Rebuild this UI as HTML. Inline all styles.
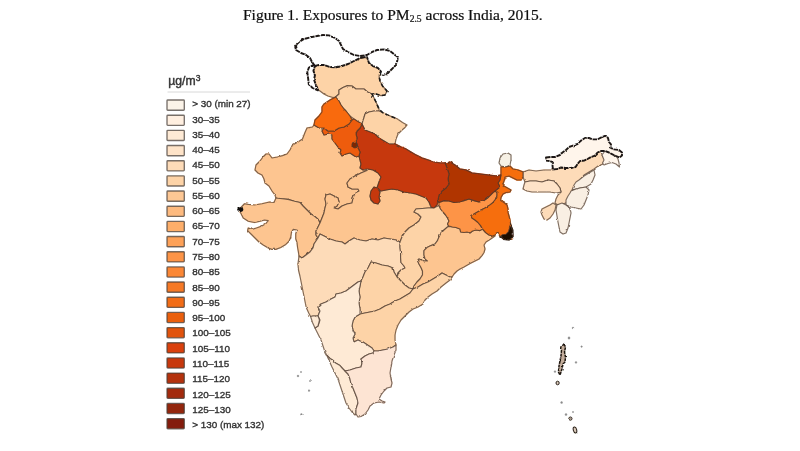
<!DOCTYPE html>
<html><head><meta charset="utf-8"><title>Figure 1</title>
<style>
html,body{margin:0;padding:0;background:#fff;}
body{width:800px;height:451px;overflow:hidden;position:relative;}
svg{position:absolute;left:0;top:0;}
.title{font-family:"Liberation Serif",serif;font-size:15.5px;fill:#111;stroke:#111;stroke-width:0.22px;}
.lg{font-family:"Liberation Sans",sans-serif;font-size:9.9px;fill:#333;stroke:#333;stroke-width:0.36px;}
.unit{font-family:"Liberation Sans",sans-serif;font-size:12.2px;fill:#333;stroke:#333;stroke-width:0.4px;}
</style></head><body>
<svg width="800" height="451" viewBox="0 0 800 451">
<defs><filter id="b" x="-5%" y="-5%" width="110%" height="110%"><feGaussianBlur stdDeviation="0.7"/></filter>
<filter id="w" x="0" y="0" width="100%" height="100%" filterUnits="userSpaceOnUse"><feTurbulence type="fractalNoise" baseFrequency="0.22" numOctaves="2" seed="7" result="n"/><feDisplacementMap in="SourceGraphic" in2="n" scale="2.2" xChannelSelector="R" yChannelSelector="G"/></filter></defs>
<rect width="800" height="451" fill="#fff"/>
<g filter="url(#b)">
<text x="243" y="20.4" class="title">Figure 1. Exposures to PM<tspan font-size="9.6" dy="2">2.5</tspan><tspan dy="-2"> across India, 2015.</tspan></text>
<text x="168.3" y="85.3" class="unit">µg/m<tspan font-size="8.5" dy="-4.5">3</tspan></text>
<line x1="167.5" y1="92" x2="250" y2="92" stroke="#d8d8d8" stroke-width="1"/>
<rect x="167" y="100.0" width="17.3" height="10.2" rx="0.8" fill="#fbf3e8" stroke="#4a423c" stroke-opacity="0.75" stroke-width="1.35"/>
<text x="192.2" y="107.2" class="lg">&gt; 30 (min 27)</text>
<rect x="167" y="115.2" width="17.3" height="10.2" rx="0.8" fill="#ffefe0" stroke="#4a423c" stroke-opacity="0.75" stroke-width="1.35"/>
<text x="192.2" y="122.5" class="lg">30–35</text>
<rect x="167" y="130.3" width="17.3" height="10.2" rx="0.8" fill="#feead5" stroke="#4a423c" stroke-opacity="0.75" stroke-width="1.35"/>
<text x="192.2" y="137.8" class="lg">35–40</text>
<rect x="167" y="145.5" width="17.3" height="10.2" rx="0.8" fill="#fee3c8" stroke="#4a423c" stroke-opacity="0.75" stroke-width="1.35"/>
<text x="192.2" y="153.0" class="lg">40–45</text>
<rect x="167" y="160.7" width="17.3" height="10.2" rx="0.8" fill="#fddbb8" stroke="#4a423c" stroke-opacity="0.75" stroke-width="1.35"/>
<text x="192.2" y="168.3" class="lg">45–50</text>
<rect x="167" y="175.8" width="17.3" height="10.2" rx="0.8" fill="#fdd3a7" stroke="#4a423c" stroke-opacity="0.75" stroke-width="1.35"/>
<text x="192.2" y="183.6" class="lg">50–55</text>
<rect x="167" y="191.0" width="17.3" height="10.2" rx="0.8" fill="#fdc794" stroke="#4a423c" stroke-opacity="0.75" stroke-width="1.35"/>
<text x="192.2" y="198.9" class="lg">55–60</text>
<rect x="167" y="206.2" width="17.3" height="10.2" rx="0.8" fill="#fdba7f" stroke="#4a423c" stroke-opacity="0.75" stroke-width="1.35"/>
<text x="192.2" y="214.2" class="lg">60–65</text>
<rect x="167" y="221.4" width="17.3" height="10.2" rx="0.8" fill="#fdae6a" stroke="#4a423c" stroke-opacity="0.75" stroke-width="1.35"/>
<text x="192.2" y="229.4" class="lg">65–70</text>
<rect x="167" y="236.5" width="17.3" height="10.2" rx="0.8" fill="#fda159" stroke="#4a423c" stroke-opacity="0.75" stroke-width="1.35"/>
<text x="192.2" y="244.7" class="lg">70–75</text>
<rect x="167" y="251.7" width="17.3" height="10.2" rx="0.8" fill="#fd9446" stroke="#4a423c" stroke-opacity="0.75" stroke-width="1.35"/>
<text x="192.2" y="260.0" class="lg">75–80</text>
<rect x="167" y="266.9" width="17.3" height="10.2" rx="0.8" fill="#fb8735" stroke="#4a423c" stroke-opacity="0.75" stroke-width="1.35"/>
<text x="192.2" y="275.3" class="lg">80–85</text>
<rect x="167" y="282.0" width="17.3" height="10.2" rx="0.8" fill="#f67925" stroke="#4a423c" stroke-opacity="0.75" stroke-width="1.35"/>
<text x="192.2" y="290.6" class="lg">85–90</text>
<rect x="167" y="297.2" width="17.3" height="10.2" rx="0.8" fill="#f26c16" stroke="#4a423c" stroke-opacity="0.75" stroke-width="1.35"/>
<text x="192.2" y="305.8" class="lg">90–95</text>
<rect x="167" y="312.4" width="17.3" height="10.2" rx="0.8" fill="#ea5f0e" stroke="#4a423c" stroke-opacity="0.75" stroke-width="1.35"/>
<text x="192.2" y="321.1" class="lg">95–100</text>
<rect x="167" y="327.6" width="17.3" height="10.2" rx="0.8" fill="#e15307" stroke="#4a423c" stroke-opacity="0.75" stroke-width="1.35"/>
<text x="192.2" y="336.4" class="lg">100–105</text>
<rect x="167" y="342.7" width="17.3" height="10.2" rx="0.8" fill="#da3f07" stroke="#4a423c" stroke-opacity="0.75" stroke-width="1.35"/>
<text x="192.2" y="351.7" class="lg">105–110</text>
<rect x="167" y="357.9" width="17.3" height="10.2" rx="0.8" fill="#c73808" stroke="#4a423c" stroke-opacity="0.75" stroke-width="1.35"/>
<text x="192.2" y="367.0" class="lg">110–115</text>
<rect x="167" y="373.1" width="17.3" height="10.2" rx="0.8" fill="#b43109" stroke="#4a423c" stroke-opacity="0.75" stroke-width="1.35"/>
<text x="192.2" y="382.2" class="lg">115–120</text>
<rect x="167" y="388.2" width="17.3" height="10.2" rx="0.8" fill="#a32b09" stroke="#4a423c" stroke-opacity="0.75" stroke-width="1.35"/>
<text x="192.2" y="397.5" class="lg">120–125</text>
<rect x="167" y="403.4" width="17.3" height="10.2" rx="0.8" fill="#93250a" stroke="#4a423c" stroke-opacity="0.75" stroke-width="1.35"/>
<text x="192.2" y="412.8" class="lg">125–130</text>
<rect x="167" y="418.6" width="17.3" height="10.2" rx="0.8" fill="#841f0a" stroke="#4a423c" stroke-opacity="0.75" stroke-width="1.35"/>
<text x="192.2" y="428.1" class="lg">&gt; 130 (max 132)</text>
<g filter="url(#w)">
<polygon points="320,91 318,89.6 315.6,84.3 314.1,79.8 314.9,75.2 313.4,70.7 314.9,66.2 319,65 324,65 330,67 336,67.4 342,66 348,64 354,61 360,58 367,57 369,63 373,66 378,68 381,71.5 379,76 380,81 382.5,86 387,91 385,95 381,95.6 376,94 372,94 367.5,92 364,89 360,89 356,89 352,86 347.5,85.6 343,87.5 339,90 339,94 335.6,97 333,97.5 328,96 324,94" fill="#fdd3a7" stroke="#fdd3a7" stroke-width="1.4" stroke-linejoin="round"/>
<polygon points="335.6,97 339,94 339,90 343,87.5 347.5,85.6 352,86 356,89 360,89 364,89 367.5,92 372,94 374,98 376,102 377.5,105.6 379,109 379,111 374,111 369,112 365,114 364,117.5 363,120.6 362,124 357,121 354,119 350,116 346,111 344,109 341,105 339,101" fill="#fdd3a7" stroke="#fdd3a7" stroke-width="1.4" stroke-linejoin="round"/>
<polygon points="379,111 382.5,112.5 387.5,115 392.5,117 397.5,119 402.5,122.5 407,125 405,127.5 402,130 398,134 396,139 395,144 389,144 384,141 379,138 375,134 370,132 365,130 362,124 363,120.6 364,117.5 365,114 369,112 374,111" fill="#fdd3a7" stroke="#fdd3a7" stroke-width="1.4" stroke-linejoin="round"/>
<polygon points="276,198 282,198.75 288,199.4 294.5,201.25 300,202.5 303.25,206.25 307,210 310.75,213.75 314.5,216.25 318.25,219.4 320,223 322,218 324,213 325,208 326,204 325,199 326,195 330,194 334,196 338,198 339,202 337,206 334,208 338,209 342,206 347,204 352,203 353,198 355,193 359,191 358,189 352,189 348,187 347,183 350,179 355,176 361,173 367,170.5 363,170 360,168 361,164 360,160 359,156 356,157 353,155 350,153 346,154 342,156 340,153 341,150 338,147 335,143 332,139 332,135 329,134 324,135 322,131 324,128 319,128 314,125 312.5,127 307,128 305,132.5 302.5,139 298,142 292.5,145 290,150 287,154 282.5,155.6 277.5,157 272,158 269,154 266,154 263,157 260,161 256,165 255,170 258,173 262,175 264,179 265,183 269,186 272,191 275,195" fill="#fdc590" stroke="#fdc590" stroke-width="1.4" stroke-linejoin="round"/>
<polygon points="299,256 298.25,251 297.6,247.5 297,242.5 295.75,238.75 295.75,233.75 297,230 293.25,229.4 291.4,232.5 290.75,237 289,241.25 285.75,244.4 280.75,247.5 275.75,249.4 272,249.4 268.25,248 263.25,245 259,242 255,238 250.75,233.75 247.6,230.6 248.25,228 252,229.4 256.4,228 261.4,226.25 265.75,223.75 268.25,220.6 264.5,220 260,221.25 254.5,222.5 248.25,221.25 243.25,218 240.75,213 238.25,209.4 241.4,207 244.5,203.75 248.25,204.4 254.5,205 262,203.75 269.5,202 274,202.5 276,198 282,198.75 288,199.4 294.5,201.25 300,202.5 303.25,206.25 307,210 310.75,213.75 314.5,216.25 318.25,219.4 320,223 318,227 316,231 316,235 318,238 316,241 314,244 313,248 310,252 306,255 302,258" fill="#fdc590" stroke="#fdc590" stroke-width="1.4" stroke-linejoin="round"/>
<polygon points="320,223 322,218 324,213 325,208 326,204 325,199 326,195 330,194 334,196 338,198 339,202 337,206 334,208 338,209 342,206 347,204 352,203 353,198 355,193 359,191 358,189 352,189 348,187 347,183 350,179 355,176 361,173 367,170.5 368,169 373,170 378,173 381,177 379,182 377,188 374,187 371,191 370,196 371,200 374,203 378,204 380,201 379,197 380,192 378,189 381,191 386,190 392,189 398,190 404,192 410,193 416,194 421,196 426,198 429,202 431,207 433,208 428,208 422,208.5 416,209 414,212 418,214 421,217 419,221 414,225 409,228 405,232 402,237 400,242 396,240 390,239 384,238 378,240 372,239 366,241 360,240 354,238 349,241 345,244 342,242 336,241 330,239 324,236 320,234 318,238 316,235 316,231 318,227" fill="#fdc590" stroke="#fdc590" stroke-width="1.4" stroke-linejoin="round"/>
<polygon points="313,316 310.6,316.5 308.75,313 306.25,307.5 305,301.25 303.75,295 302.5,288.75 301.25,282.5 300,276.25 298.5,270 298,264 299,256 302,258 306,255 310,252 313,248 314,244 316,241 318,238 320,234 324,236 330,239 336,241 342,242 345,244 349,241 354,238 360,240 366,241 372,239 378,240 384,238 390,239 396,240 400,242 400,247.5 400.6,252.5 400.6,257.5 401,262.5 404,266 405,268 401,270 398,273 397,277 394,272 393,268 388,266 382,265 376,263 371,262 368,268 365,272 363,277 361,281 358,282 354,285 350,288 346,291 341,293 336,294 335,297 331,299 326,302 321,304 318,307 320,311 318,316" fill="#fddbb8" stroke="#fddbb8" stroke-width="1.4" stroke-linejoin="round"/>
<polygon points="400,242 402,237 405,232 409,228 414,225 419,221 421,217 418,214 414,212 416,209 422,208.5 428,208 433,208 437,206.5 439,205.6 440.6,209 443,212 445.6,215 447.5,218 449,221 447.5,224 448.5,226.5 447.5,227 444,230 441,233 439,237 437.5,240.6 435,244 431,245.6 427,247.5 424,250.6 424,255 425,259 427.5,261 424,261 419,259 417.5,260.6 419,264 421,267.5 422.5,271 422.5,275 420,279 417,282 414,286 413,289 409,288 405,285 402,282 399,279 397,277 398,273 401,270 405,268 404,266 401,262.5 400.6,257.5 400.6,252.5 400,247.5" fill="#fdd3a7" stroke="#fdd3a7" stroke-width="1.4" stroke-linejoin="round"/>
<polygon points="448.5,226.5 452.5,227 456,227.5 460,229 460.6,232 464,232.5 467,232 470,233 472.5,231 476,230 480,230.6 482.5,229 485.6,232.5 489,235 492.5,236 495,236 490,239.5 486,242 484,245 485,249 484,252.5 482,255.6 479,259 475,261 471,263 467.5,265 464,267 460,269 457,271 454,274 452,277 450,277 446,275 442,273 438,276 433,279 428,282 423,284 418,287 413,289 414,286 417,282 420,279 422.5,275 422.5,271 421,267.5 419,264 417.5,260.6 419,259 424,261 427.5,261 425,259 424,255 424,250.6 427,247.5 431,245.6 435,244 437.5,240.6 439,237 441,233 444,230 447.5,227" fill="#fdc590" stroke="#fdc590" stroke-width="1.4" stroke-linejoin="round"/>
<polygon points="361,281 363,277 365,272 368,268 371,262 376,263 382,265 388,266 393,268 394,272 397,277 399,279 402,282 405,285 409,288 413,289 410,293 405,296 400,299 395,301 390,304 385,306 380,309 375,311 370,312 365,313 360,314 360,309 359,303 360,297 359,291 360,286" fill="#fdd3a7" stroke="#fdd3a7" stroke-width="1.4" stroke-linejoin="round"/>
<polygon points="360,314 365,313 370,312 375,311 380,309 385,306 390,304 395,301 400,299 405,296 410,293 413,289 418,287 423,284 428,282 433,279 438,276 442,273 446,275 450,277 452,277 450,280 446,283 441,287 437,291 432,294 428,297 425,300 423,304 418,307 413,309 409,312 405,316 401,320 398,325 396,330 395,335 395,340 396,345 393,347 388,349 383,350 378,351 374,351 372,348 369,346 366,344 363,342 360,341 358,340 354,342 353,338 355,334 353,330 352,326 353,321 355,317" fill="#fdd3a7" stroke="#fdd3a7" stroke-width="1.4" stroke-linejoin="round"/>
<polygon points="345,371 342.5,368.5 340,365.6 335.6,363 332.5,360 330,358.5 327,355.5 325,352 323,346 321,340 318,334 315,328 318,326 320,320 318,316 320,311 318,307 321,304 326,302 331,299 335,297 336,294 341,293 346,291 350,288 354,285 358,282 361,281 360,286 359,291 360,297 359,303 360,309 360,314 355,317 353,321 352,326 353,330 355,334 353,338 354,342 358,340 360,341 363,342 366,344 369,346 372,348 374,351 373,353 369,354 365,356 361,359 362,363 361,367 356,368 350,370" fill="#feead5" stroke="#feead5" stroke-width="1.4" stroke-linejoin="round"/>
<polygon points="310.6,316.5 313,316 318,316 319.5,320 318,326 315,328 312.5,322.5" fill="#feead5" stroke="#feead5" stroke-width="1.4" stroke-linejoin="round"/>
<polygon points="327,355.5 330,358.5 332.5,360 335.6,363 340,365.6 342.5,368.5 345,371 348,374 350,379 351,384 353,388 355,393 357,398 358,403 356,409 356,414 355,415 352,412 349,408 346,403 344,397 342,391 340,385 338,379 335,373 332,367 329.5,361.5" fill="#feead5" stroke="#feead5" stroke-width="1.4" stroke-linejoin="round"/>
<polygon points="345,371 350,370 356,368 361,367 362,363 361,359 365,356 369,354 373,353 374,351 378,351 383,350 388,349 393,347 396,345 396,350 394,355 392,361 391,367 390,373 391,379 392,383 391,387 387,388 384,391 381,395 379,399 382,401 385,402 384,403 379,402 374,403 370,406 368,410 365,414 361,416.5 358,417 356,414 356,409 358,403 357,398 355,393 353,388 351,384 350,379 348,374" fill="#fde4d3" stroke="#fde4d3" stroke-width="1.4" stroke-linejoin="round"/>
<polygon points="553,170 557,169 561,167.5 566,168 571,168 575.6,167 577.5,164 580,161 584,160.6 587.5,159 591,157 595,155.6 597.5,152.5 601,151 602,155 605,160 603,164 598,166 594,169 589,172 584,175 581,179 579,184 575,187 572,191 570,195 568,199 566,203 562,204 557,204.5 555,203 556,199 558,195 561,192 560,188 557,184 554,181 548,180 542,182 536,181 530,181 525,182 523,177 523,172 529,170 536,171 544,170" fill="#fddbb8" stroke="#fddbb8" stroke-width="1.4" stroke-linejoin="round"/>
<polygon points="525,182 530,181 536,181 542,182 548,180 554,181 557,184 560,188 561,192 556,193 550,192 544,192 538,192 532,192 527,191 523,189 524,185" fill="#fee3c8" stroke="#fee3c8" stroke-width="1.4" stroke-linejoin="round"/>
<polygon points="579,180 584,176 589,173 594,170 595,175 593,180 591,184 586,187 580,188 576,189 572,190 574,185 576,182" fill="#f9efe3" stroke="#f9efe3" stroke-width="1.4" stroke-linejoin="round"/>
<polygon points="571,191 576,189 580,188 586,187 589,190 588,195 586,200 584,205 581,209 576,208 571,207 566,205 566,200 568,196 570,193" fill="#f9efe3" stroke="#f9efe3" stroke-width="1.4" stroke-linejoin="round"/>
<polygon points="557,205 562,203 566,205 570,208 571,213 570,218 569,223 568,228 566,233 563,234 560,232 559,227 558,222 557,216 556,210" fill="#f9efe3" stroke="#f9efe3" stroke-width="1.4" stroke-linejoin="round"/>
<polygon points="542,209 546,207 550,205 553,203 556,205 555,210 553,214 550,218 547,220 544,219 542,215 541,212" fill="#fddbb8" stroke="#fddbb8" stroke-width="1.4" stroke-linejoin="round"/>
<polygon points="602,155 605,151 609,152.5 612.5,154.4 616,156 618,159 619,163 619.5,167 616,164 612,162.5 608,163.5 604,165 602.5,163 604,160" fill="#fff5eb" stroke="#fff5eb" stroke-width="1.4" stroke-linejoin="round"/>
<polygon points="500,158 503,154 508,153 511,155 511,160 510,165 506,167 501,166 499,163" fill="#f6f0e4" stroke="#f6f0e4" stroke-width="1.4" stroke-linejoin="round"/>
<polygon points="439,202.5 444,200.6 449,201 454,202.5 459,202 464,200.6 469,199 474,200.6 479,202 484,200.6 487.5,198 490,195.6 492.5,193 495,191 497,192.5 497,196 495,200 492.5,203 489,205.6 485,208 481,210 477.5,212 474,214 471,215.6 472,218 475,220 478,222.5 480.6,225.6 482.5,229 480,230.6 476,230 472.5,231 470,233 467,232 464,232.5 460.6,232 460,229 456,227.5 452.5,227 449,226 447.5,224 449,221 447.5,218 445.6,215 443,212 440.6,209 439,205.6" fill="#fd9446" stroke="#fd9446" stroke-width="1.4" stroke-linejoin="round"/>
<polygon points="501,167 506,167 510,166 513,169 518,170 523,172 523,177 521,180 517,180 513,178 509,176 505,177 504,181 503,184 504,186 507.5,188 511,190 510,192 506,192.5 503,194 501,197.5 500.6,200.6 504,202.5 507,205 508,209 508,212.5 509,216 510,220 510.6,224 511,227.5 512,231 512.5,235 512,239 507.5,239 502.5,239 500,236 498,233 495,235 492.5,236 489,235 485.6,232.5 482.5,229 480.6,225.6 478,222.5 475,220 472,218 471,215.6 474,214 477.5,212 481,210 485,208 489,205.6 492.5,203 495,200 497,196 497,192.5 495,191 497.5,189 500,187 498,183 500,180 501,175 501,170" fill="#f66e10" stroke="#f66e10" stroke-width="1.4" stroke-linejoin="round"/>
<polygon points="445,163 450,162 455,165 460,169 466,170 472,173 480,174 488,175 496,176 501,175 500,180 498,183 500,187 497.5,189 495,191 492.5,193 490,195.6 487.5,198 484,200.6 479,202 474,200.6 469,199 464,200.6 459,202 454,202.5 449,201 444,200.6 439,202.5 438,200 439,195 442,191 446,188 449,184 448,179 449,174 447,168" fill="#b03606" stroke="#b03606" stroke-width="1.4" stroke-linejoin="round"/>
<polygon points="362,124 365,130 370,132 375,134 379,138 384,141 389,144 395,144 401,147 406,149 411,152 416,155 422,158 428,160 434,162 440,163 445,163 447,168 449,174 448,179 449,184 446,188 442,191 439,195 438,200 437,205 434,208 431,207 429,202 426,198 421,196 416,194 410,193 404,192 398,190 392,189 386,190 381,191 378,189 380,192 379,197 380,201 378,204 374,203 371,200 370,196 371,191 374,187 377,188 379,182 381,177 378,173 373,170 368,169 363,170 360,168 361,164 360,160 359,156 360,152 358,148 357,144 356,142 357,138 356,134 357,131 360,128" fill="#c6390a" stroke="#c6390a" stroke-width="1.4" stroke-linejoin="round"/>
<polygon points="352,120 354,119 357,121 362,124 360,128 357,131 356,134 357,138 356,142 355,146 358,148 360,152 359,156 356,157 353,155 350,153 346,154 342,156 340,153 341,150 338,147 335,143 332,139 332,135 329,134 324,135 322,131 324,128 328,131 334,131 339,128 344,127 349,124" fill="#ee5c0c" stroke="#ee5c0c" stroke-width="1.4" stroke-linejoin="round"/>
<polygon points="324,104 330,100 334,98 335.6,97 339,101 341,105 344,109 346,111 350,116 352,120 349,124 344,127 339,128 334,131 328,131 324,128 319,128 314,125 315,120 319,116 322,112 322,107" fill="#f96a10" stroke="#f96a10" stroke-width="1.4" stroke-linejoin="round"/>
<polygon points="352,143 355,142 357,144 357,147 355,148 352,147" fill="#7f2704" stroke="#7f2704" stroke-width="1.4" stroke-linejoin="round"/>
<polygon points="510.5,224.5 512.7,230 512.9,237.6 509,239.9 503,239.2 500,236.9 502.2,234.8 506,234.2 508.6,231.6 509.5,227" fill="#1c0b02" stroke="#1c0b02" stroke-width="1.4" stroke-linejoin="round"/>
<polygon points="320,91 318,89.6 315.6,84.3 314.1,79.8 314.9,75.2 313.4,70.7 314.9,66.2 319,65 324,65 330,67 336,67.4 342,66 348,64 354,61 360,58 367,57 369,63 373,66 378,68 381,71.5 379,76 380,81 382.5,86 387,91 385,95 381,95.6 376,94 372,94 367.5,92 364,89 360,89 356,89 352,86 347.5,85.6 343,87.5 339,90 339,94 335.6,97 333,97.5 328,96 324,94" fill="#fdd3a7" stroke="#4a382c" stroke-width="1.15" stroke-opacity="0.7" stroke-linejoin="round"/>
<polygon points="335.6,97 339,94 339,90 343,87.5 347.5,85.6 352,86 356,89 360,89 364,89 367.5,92 372,94 374,98 376,102 377.5,105.6 379,109 379,111 374,111 369,112 365,114 364,117.5 363,120.6 362,124 357,121 354,119 350,116 346,111 344,109 341,105 339,101" fill="#fdd3a7" stroke="#4a382c" stroke-width="1.15" stroke-opacity="0.7" stroke-linejoin="round"/>
<polygon points="379,111 382.5,112.5 387.5,115 392.5,117 397.5,119 402.5,122.5 407,125 405,127.5 402,130 398,134 396,139 395,144 389,144 384,141 379,138 375,134 370,132 365,130 362,124 363,120.6 364,117.5 365,114 369,112 374,111" fill="#fdd3a7" stroke="#4a382c" stroke-width="1.15" stroke-opacity="0.7" stroke-linejoin="round"/>
<polygon points="276,198 282,198.75 288,199.4 294.5,201.25 300,202.5 303.25,206.25 307,210 310.75,213.75 314.5,216.25 318.25,219.4 320,223 322,218 324,213 325,208 326,204 325,199 326,195 330,194 334,196 338,198 339,202 337,206 334,208 338,209 342,206 347,204 352,203 353,198 355,193 359,191 358,189 352,189 348,187 347,183 350,179 355,176 361,173 367,170.5 363,170 360,168 361,164 360,160 359,156 356,157 353,155 350,153 346,154 342,156 340,153 341,150 338,147 335,143 332,139 332,135 329,134 324,135 322,131 324,128 319,128 314,125 312.5,127 307,128 305,132.5 302.5,139 298,142 292.5,145 290,150 287,154 282.5,155.6 277.5,157 272,158 269,154 266,154 263,157 260,161 256,165 255,170 258,173 262,175 264,179 265,183 269,186 272,191 275,195" fill="#fdc590" stroke="#4a382c" stroke-width="1.15" stroke-opacity="0.7" stroke-linejoin="round"/>
<polygon points="299,256 298.25,251 297.6,247.5 297,242.5 295.75,238.75 295.75,233.75 297,230 293.25,229.4 291.4,232.5 290.75,237 289,241.25 285.75,244.4 280.75,247.5 275.75,249.4 272,249.4 268.25,248 263.25,245 259,242 255,238 250.75,233.75 247.6,230.6 248.25,228 252,229.4 256.4,228 261.4,226.25 265.75,223.75 268.25,220.6 264.5,220 260,221.25 254.5,222.5 248.25,221.25 243.25,218 240.75,213 238.25,209.4 241.4,207 244.5,203.75 248.25,204.4 254.5,205 262,203.75 269.5,202 274,202.5 276,198 282,198.75 288,199.4 294.5,201.25 300,202.5 303.25,206.25 307,210 310.75,213.75 314.5,216.25 318.25,219.4 320,223 318,227 316,231 316,235 318,238 316,241 314,244 313,248 310,252 306,255 302,258" fill="#fdc590" stroke="#4a382c" stroke-width="1.15" stroke-opacity="0.7" stroke-linejoin="round"/>
<polygon points="320,223 322,218 324,213 325,208 326,204 325,199 326,195 330,194 334,196 338,198 339,202 337,206 334,208 338,209 342,206 347,204 352,203 353,198 355,193 359,191 358,189 352,189 348,187 347,183 350,179 355,176 361,173 367,170.5 368,169 373,170 378,173 381,177 379,182 377,188 374,187 371,191 370,196 371,200 374,203 378,204 380,201 379,197 380,192 378,189 381,191 386,190 392,189 398,190 404,192 410,193 416,194 421,196 426,198 429,202 431,207 433,208 428,208 422,208.5 416,209 414,212 418,214 421,217 419,221 414,225 409,228 405,232 402,237 400,242 396,240 390,239 384,238 378,240 372,239 366,241 360,240 354,238 349,241 345,244 342,242 336,241 330,239 324,236 320,234 318,238 316,235 316,231 318,227" fill="#fdc590" stroke="#4a382c" stroke-width="1.15" stroke-opacity="0.7" stroke-linejoin="round"/>
<polygon points="313,316 310.6,316.5 308.75,313 306.25,307.5 305,301.25 303.75,295 302.5,288.75 301.25,282.5 300,276.25 298.5,270 298,264 299,256 302,258 306,255 310,252 313,248 314,244 316,241 318,238 320,234 324,236 330,239 336,241 342,242 345,244 349,241 354,238 360,240 366,241 372,239 378,240 384,238 390,239 396,240 400,242 400,247.5 400.6,252.5 400.6,257.5 401,262.5 404,266 405,268 401,270 398,273 397,277 394,272 393,268 388,266 382,265 376,263 371,262 368,268 365,272 363,277 361,281 358,282 354,285 350,288 346,291 341,293 336,294 335,297 331,299 326,302 321,304 318,307 320,311 318,316" fill="#fddbb8" stroke="#4a382c" stroke-width="1.15" stroke-opacity="0.7" stroke-linejoin="round"/>
<polygon points="400,242 402,237 405,232 409,228 414,225 419,221 421,217 418,214 414,212 416,209 422,208.5 428,208 433,208 437,206.5 439,205.6 440.6,209 443,212 445.6,215 447.5,218 449,221 447.5,224 448.5,226.5 447.5,227 444,230 441,233 439,237 437.5,240.6 435,244 431,245.6 427,247.5 424,250.6 424,255 425,259 427.5,261 424,261 419,259 417.5,260.6 419,264 421,267.5 422.5,271 422.5,275 420,279 417,282 414,286 413,289 409,288 405,285 402,282 399,279 397,277 398,273 401,270 405,268 404,266 401,262.5 400.6,257.5 400.6,252.5 400,247.5" fill="#fdd3a7" stroke="#4a382c" stroke-width="1.15" stroke-opacity="0.7" stroke-linejoin="round"/>
<polygon points="448.5,226.5 452.5,227 456,227.5 460,229 460.6,232 464,232.5 467,232 470,233 472.5,231 476,230 480,230.6 482.5,229 485.6,232.5 489,235 492.5,236 495,236 490,239.5 486,242 484,245 485,249 484,252.5 482,255.6 479,259 475,261 471,263 467.5,265 464,267 460,269 457,271 454,274 452,277 450,277 446,275 442,273 438,276 433,279 428,282 423,284 418,287 413,289 414,286 417,282 420,279 422.5,275 422.5,271 421,267.5 419,264 417.5,260.6 419,259 424,261 427.5,261 425,259 424,255 424,250.6 427,247.5 431,245.6 435,244 437.5,240.6 439,237 441,233 444,230 447.5,227" fill="#fdc590" stroke="#4a382c" stroke-width="1.15" stroke-opacity="0.7" stroke-linejoin="round"/>
<polygon points="361,281 363,277 365,272 368,268 371,262 376,263 382,265 388,266 393,268 394,272 397,277 399,279 402,282 405,285 409,288 413,289 410,293 405,296 400,299 395,301 390,304 385,306 380,309 375,311 370,312 365,313 360,314 360,309 359,303 360,297 359,291 360,286" fill="#fdd3a7" stroke="#4a382c" stroke-width="1.15" stroke-opacity="0.7" stroke-linejoin="round"/>
<polygon points="360,314 365,313 370,312 375,311 380,309 385,306 390,304 395,301 400,299 405,296 410,293 413,289 418,287 423,284 428,282 433,279 438,276 442,273 446,275 450,277 452,277 450,280 446,283 441,287 437,291 432,294 428,297 425,300 423,304 418,307 413,309 409,312 405,316 401,320 398,325 396,330 395,335 395,340 396,345 393,347 388,349 383,350 378,351 374,351 372,348 369,346 366,344 363,342 360,341 358,340 354,342 353,338 355,334 353,330 352,326 353,321 355,317" fill="#fdd3a7" stroke="#4a382c" stroke-width="1.15" stroke-opacity="0.7" stroke-linejoin="round"/>
<polygon points="345,371 342.5,368.5 340,365.6 335.6,363 332.5,360 330,358.5 327,355.5 325,352 323,346 321,340 318,334 315,328 318,326 320,320 318,316 320,311 318,307 321,304 326,302 331,299 335,297 336,294 341,293 346,291 350,288 354,285 358,282 361,281 360,286 359,291 360,297 359,303 360,309 360,314 355,317 353,321 352,326 353,330 355,334 353,338 354,342 358,340 360,341 363,342 366,344 369,346 372,348 374,351 373,353 369,354 365,356 361,359 362,363 361,367 356,368 350,370" fill="#feead5" stroke="#4a382c" stroke-width="1.15" stroke-opacity="0.7" stroke-linejoin="round"/>
<polygon points="310.6,316.5 313,316 318,316 319.5,320 318,326 315,328 312.5,322.5" fill="#feead5" stroke="#4a382c" stroke-width="1.15" stroke-opacity="0.7" stroke-linejoin="round"/>
<polygon points="327,355.5 330,358.5 332.5,360 335.6,363 340,365.6 342.5,368.5 345,371 348,374 350,379 351,384 353,388 355,393 357,398 358,403 356,409 356,414 355,415 352,412 349,408 346,403 344,397 342,391 340,385 338,379 335,373 332,367 329.5,361.5" fill="#feead5" stroke="#4a382c" stroke-width="1.15" stroke-opacity="0.7" stroke-linejoin="round"/>
<polygon points="345,371 350,370 356,368 361,367 362,363 361,359 365,356 369,354 373,353 374,351 378,351 383,350 388,349 393,347 396,345 396,350 394,355 392,361 391,367 390,373 391,379 392,383 391,387 387,388 384,391 381,395 379,399 382,401 385,402 384,403 379,402 374,403 370,406 368,410 365,414 361,416.5 358,417 356,414 356,409 358,403 357,398 355,393 353,388 351,384 350,379 348,374" fill="#fde4d3" stroke="#4a382c" stroke-width="1.15" stroke-opacity="0.7" stroke-linejoin="round"/>
<polygon points="553,170 557,169 561,167.5 566,168 571,168 575.6,167 577.5,164 580,161 584,160.6 587.5,159 591,157 595,155.6 597.5,152.5 601,151 602,155 605,160 603,164 598,166 594,169 589,172 584,175 581,179 579,184 575,187 572,191 570,195 568,199 566,203 562,204 557,204.5 555,203 556,199 558,195 561,192 560,188 557,184 554,181 548,180 542,182 536,181 530,181 525,182 523,177 523,172 529,170 536,171 544,170" fill="#fddbb8" stroke="#4a382c" stroke-width="1.15" stroke-opacity="0.7" stroke-linejoin="round"/>
<polygon points="525,182 530,181 536,181 542,182 548,180 554,181 557,184 560,188 561,192 556,193 550,192 544,192 538,192 532,192 527,191 523,189 524,185" fill="#fee3c8" stroke="#4a382c" stroke-width="1.15" stroke-opacity="0.7" stroke-linejoin="round"/>
<polygon points="579,180 584,176 589,173 594,170 595,175 593,180 591,184 586,187 580,188 576,189 572,190 574,185 576,182" fill="#f9efe3" stroke="#4a382c" stroke-width="1.15" stroke-opacity="0.7" stroke-linejoin="round"/>
<polygon points="571,191 576,189 580,188 586,187 589,190 588,195 586,200 584,205 581,209 576,208 571,207 566,205 566,200 568,196 570,193" fill="#f9efe3" stroke="#4a382c" stroke-width="1.15" stroke-opacity="0.7" stroke-linejoin="round"/>
<polygon points="557,205 562,203 566,205 570,208 571,213 570,218 569,223 568,228 566,233 563,234 560,232 559,227 558,222 557,216 556,210" fill="#f9efe3" stroke="#4a382c" stroke-width="1.15" stroke-opacity="0.7" stroke-linejoin="round"/>
<polygon points="542,209 546,207 550,205 553,203 556,205 555,210 553,214 550,218 547,220 544,219 542,215 541,212" fill="#fddbb8" stroke="#4a382c" stroke-width="1.15" stroke-opacity="0.7" stroke-linejoin="round"/>
<polygon points="602,155 605,151 609,152.5 612.5,154.4 616,156 618,159 619,163 619.5,167 616,164 612,162.5 608,163.5 604,165 602.5,163 604,160" fill="#fff5eb" stroke="#4a382c" stroke-width="1.15" stroke-opacity="0.7" stroke-linejoin="round"/>
<polygon points="500,158 503,154 508,153 511,155 511,160 510,165 506,167 501,166 499,163" fill="#f6f0e4" stroke="#4a382c" stroke-width="1.15" stroke-opacity="0.7" stroke-linejoin="round"/>
<polygon points="439,202.5 444,200.6 449,201 454,202.5 459,202 464,200.6 469,199 474,200.6 479,202 484,200.6 487.5,198 490,195.6 492.5,193 495,191 497,192.5 497,196 495,200 492.5,203 489,205.6 485,208 481,210 477.5,212 474,214 471,215.6 472,218 475,220 478,222.5 480.6,225.6 482.5,229 480,230.6 476,230 472.5,231 470,233 467,232 464,232.5 460.6,232 460,229 456,227.5 452.5,227 449,226 447.5,224 449,221 447.5,218 445.6,215 443,212 440.6,209 439,205.6" fill="#fd9446" stroke="#4a382c" stroke-width="1.15" stroke-opacity="0.7" stroke-linejoin="round"/>
<polygon points="501,167 506,167 510,166 513,169 518,170 523,172 523,177 521,180 517,180 513,178 509,176 505,177 504,181 503,184 504,186 507.5,188 511,190 510,192 506,192.5 503,194 501,197.5 500.6,200.6 504,202.5 507,205 508,209 508,212.5 509,216 510,220 510.6,224 511,227.5 512,231 512.5,235 512,239 507.5,239 502.5,239 500,236 498,233 495,235 492.5,236 489,235 485.6,232.5 482.5,229 480.6,225.6 478,222.5 475,220 472,218 471,215.6 474,214 477.5,212 481,210 485,208 489,205.6 492.5,203 495,200 497,196 497,192.5 495,191 497.5,189 500,187 498,183 500,180 501,175 501,170" fill="#f66e10" stroke="#4a382c" stroke-width="1.15" stroke-opacity="0.7" stroke-linejoin="round"/>
<polygon points="445,163 450,162 455,165 460,169 466,170 472,173 480,174 488,175 496,176 501,175 500,180 498,183 500,187 497.5,189 495,191 492.5,193 490,195.6 487.5,198 484,200.6 479,202 474,200.6 469,199 464,200.6 459,202 454,202.5 449,201 444,200.6 439,202.5 438,200 439,195 442,191 446,188 449,184 448,179 449,174 447,168" fill="#b03606" stroke="#4a382c" stroke-width="1.15" stroke-opacity="0.7" stroke-linejoin="round"/>
<polygon points="362,124 365,130 370,132 375,134 379,138 384,141 389,144 395,144 401,147 406,149 411,152 416,155 422,158 428,160 434,162 440,163 445,163 447,168 449,174 448,179 449,184 446,188 442,191 439,195 438,200 437,205 434,208 431,207 429,202 426,198 421,196 416,194 410,193 404,192 398,190 392,189 386,190 381,191 378,189 380,192 379,197 380,201 378,204 374,203 371,200 370,196 371,191 374,187 377,188 379,182 381,177 378,173 373,170 368,169 363,170 360,168 361,164 360,160 359,156 360,152 358,148 357,144 356,142 357,138 356,134 357,131 360,128" fill="#c6390a" stroke="#4a382c" stroke-width="1.15" stroke-opacity="0.7" stroke-linejoin="round"/>
<polygon points="352,120 354,119 357,121 362,124 360,128 357,131 356,134 357,138 356,142 355,146 358,148 360,152 359,156 356,157 353,155 350,153 346,154 342,156 340,153 341,150 338,147 335,143 332,139 332,135 329,134 324,135 322,131 324,128 328,131 334,131 339,128 344,127 349,124" fill="#ee5c0c" stroke="#4a382c" stroke-width="1.15" stroke-opacity="0.7" stroke-linejoin="round"/>
<polygon points="324,104 330,100 334,98 335.6,97 339,101 341,105 344,109 346,111 350,116 352,120 349,124 344,127 339,128 334,131 328,131 324,128 319,128 314,125 315,120 319,116 322,112 322,107" fill="#f96a10" stroke="#4a382c" stroke-width="1.15" stroke-opacity="0.7" stroke-linejoin="round"/>
<polygon points="352,143 355,142 357,144 357,147 355,148 352,147" fill="#7f2704" stroke="#4a382c" stroke-width="1.15" stroke-opacity="0.7" stroke-linejoin="round"/>
<polygon points="510.5,224.5 512.7,230 512.9,237.6 509,239.9 503,239.2 500,236.9 502.2,234.8 506,234.2 508.6,231.6 509.5,227" fill="#1c0b02" stroke="#4a382c" stroke-width="1.15" stroke-opacity="0.7" stroke-linejoin="round"/>
<polygon points="315,66 312,62 310,58 306,55 301,53 296,50 295,46 299,42 304,39 310,37.4 317,36 323,35 329,35.4 335,38 339,41 341,45 343,49 348,52 354,55 360,56 367,55 372,52 377,50 384,49.4 390,51 395,55 398,57 397,62 395,66 391,70 388,73 383,75 380,73 381,71.5 378,68 373,66 369,63 367,57 360,58 354,61 348,64 342,66 336,67.4 330,67 324,65 319,65" fill="#ffffff" stroke="#1e1814" stroke-width="1.9" stroke-dasharray="4.5 0.8" stroke-linejoin="round"/>
<polygon points="314.9,66.2 312.6,65.4 308.8,67.7 307.3,72.2 308.1,78.2 308.8,84.3 312.6,88 317.9,90.3 318,89.6 315.6,84.3 314.1,79.8 314.9,75.2 313.4,70.7" fill="#ffffff" stroke="#1e1814" stroke-width="1.9" stroke-dasharray="4.5 0.8" stroke-linejoin="round"/>
<polygon points="546,157.5 550.6,157 555,157 560,155 562.5,152.5 566,150 569,147 573,145.6 577.5,144 581,140.6 585,138 589,138 592.5,139.4 597.5,139.4 602,137 605.6,135.6 608,138 609,142 611,144.4 610,147.5 614,149.4 619,150 622,152.5 622,155.6 619.4,157.5 616,156 612.5,154.4 609,152.5 605,151 601,151 597.5,152.5 595,155.6 591,157 587.5,159 584,160.6 580,161 577.5,164 575.6,167 571,168 566,168 561,167.5 557,169 553,169.4 552.5,165.6 553,162.5 550,161 546,160.6" fill="#fff5eb" stroke="#1e1814" stroke-width="1.9" stroke-dasharray="4.5 0.8" stroke-linejoin="round"/>
<polyline points="381,71.5 379,76 380,81 382.5,86 387,91 385,95 381,95.6 376,94 372,94 374,98 376,102 377.5,105.6 379,109 382.5,112.5 387.5,115 392.5,117 397.5,119" fill="none" stroke="#1a1a1a" stroke-width="1.6" stroke-dasharray="4 2.5" stroke-linejoin="round"/>
<polygon points="564,344 565.5,347 564.5,352 565.5,357 565,362 563,364 562,369 560,375 558.5,372 559,366 560,361 561,356 561.5,350 562,346" fill="#c4ae9c" stroke="#1e1610" stroke-width="1.5" stroke-dasharray="3 0.7"/>
<ellipse cx="298" cy="376" rx="0.9" ry="0.9" transform="rotate(0 298 376)" fill="#777" stroke="#777" stroke-width="0.4" opacity="0.85"/>
<ellipse cx="301" cy="372" rx="0.7" ry="0.7" transform="rotate(0 301 372)" fill="#777" stroke="#777" stroke-width="0.4" opacity="0.85"/>
<ellipse cx="310" cy="381" rx="0.7" ry="0.7" transform="rotate(0 310 381)" fill="#777" stroke="#777" stroke-width="0.4" opacity="0.85"/>
<ellipse cx="309" cy="390.6" rx="0.9" ry="0.9" transform="rotate(0 309 390.6)" fill="#777" stroke="#777" stroke-width="0.4" opacity="0.85"/>
<ellipse cx="301.4" cy="414.4" rx="0.9" ry="0.9" transform="rotate(0 301.4 414.4)" fill="#777" stroke="#777" stroke-width="0.4" opacity="0.85"/>
<ellipse cx="573" cy="328" rx="0.9" ry="0.9" transform="rotate(0 573 328)" fill="#777" stroke="#777" stroke-width="0.4" opacity="0.85"/>
<ellipse cx="569" cy="338" rx="1.0" ry="1.2" transform="rotate(0 569 338)" fill="#777" stroke="#777" stroke-width="0.4" opacity="0.85"/>
<ellipse cx="581.6" cy="346.6" rx="0.8" ry="0.8" transform="rotate(0 581.6 346.6)" fill="#777" stroke="#777" stroke-width="0.4" opacity="0.85"/>
<ellipse cx="576" cy="362.4" rx="0.9" ry="0.9" transform="rotate(0 576 362.4)" fill="#777" stroke="#777" stroke-width="0.4" opacity="0.85"/>
<ellipse cx="555" cy="371.6" rx="0.9" ry="0.9" transform="rotate(0 555 371.6)" fill="#777" stroke="#777" stroke-width="0.4" opacity="0.85"/>
<ellipse cx="557.6" cy="383" rx="1.6" ry="1.8" transform="rotate(0 557.6 383)" fill="#d8c8b8" stroke="#2a2018" stroke-width="1"/>
<ellipse cx="561.6" cy="402.6" rx="1.0" ry="1.0" transform="rotate(0 561.6 402.6)" fill="#777" stroke="#777" stroke-width="0.4" opacity="0.85"/>
<ellipse cx="566" cy="414.6" rx="1.0" ry="1.0" transform="rotate(0 566 414.6)" fill="#777" stroke="#777" stroke-width="0.4" opacity="0.85"/>
<ellipse cx="573" cy="412" rx="0.7" ry="0.7" transform="rotate(0 573 412)" fill="#777" stroke="#777" stroke-width="0.4" opacity="0.85"/>
<ellipse cx="570.4" cy="418.6" rx="1.6" ry="1.6" transform="rotate(0 570.4 418.6)" fill="#d8c8b8" stroke="#2a2018" stroke-width="1"/>
<ellipse cx="575" cy="430" rx="1.7" ry="3.0" transform="rotate(-15 575 430)" fill="#d8c8b8" stroke="#2a2018" stroke-width="1"/>
<ellipse cx="240.3" cy="209.6" rx="3" ry="2.4" fill="#111"/>
</g>
</g>
</svg>
</body></html>
